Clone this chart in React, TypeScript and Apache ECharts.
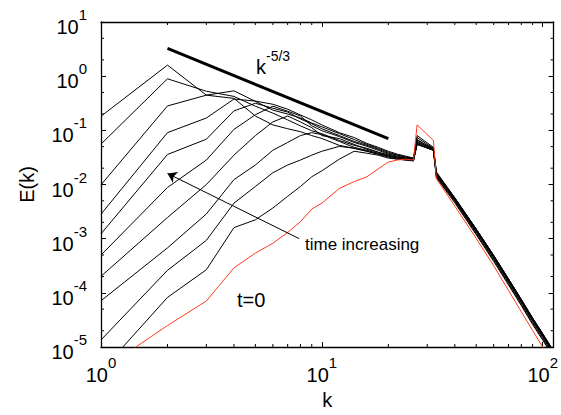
import React, { useEffect, useRef } from "react";
import * as echarts from "echarts";

// wavenumbers at which the spectra are sampled
const kValues = [1, 2, 3, 4, 5, 6, 7, 8, 9, 10, 12, 14, 16, 18, 20, 22, 24, 26, 27, 32, 33, 40, 50, 60, 70, 80, 90, 100, 110];

// t = 0 spectrum (red)
const energyT0 = [3.67e-6, 2.49e-5, 7.06e-5, 2.9e-4, 5.42e-4, 8.22e-4, 1.3e-3, 2.05e-3, 3.52e-3, 4.53e-3, 8.45e-3, 0.0113, 0.0139, 0.0194, 0.026, 0.0283, 0.0294, 0.0283, 0.126, 0.065, 0.0128, 4.0e-3, 1.01e-3, 3.16e-4, 1.11e-4, 4.47e-5, 2.02e-5, 1.0e-5, 5.1e-6];

// later spectra, earliest first (black)
const energyStage1 = [3.56e-6, 8.23e-5, 2.67e-4, 1.6e-3, 2.23e-3, 3.68e-3, 6.06e-3, 9.19e-3, 0.0139, 0.0179, 0.0294, 0.0411, 0.0378, 0.0348, 0.0307, 0.0294, 0.0283, 0.0271, 0.055, 0.0428, 0.0134, 4.6e-3, 1.18e-3, 3.8e-4, 1.4e-4, 5.8e-5, 2.6e-5, 1.34e-5, 7.2e-6];
const energyStage2 = [1.35e-5, 2.6e-4, 9.31e-4, 4.53e-3, 9.19e-3, 0.0165, 0.0229, 0.0283, 0.0348, 0.0411, 0.0506, 0.0466, 0.0411, 0.0363, 0.032, 0.0294, 0.0283, 0.0283, 0.055, 0.0428, 0.0139, 4.8e-3, 1.24e-3, 4.0e-4, 1.47e-4, 6.1e-5, 2.75e-5, 1.42e-5, 7.6e-6];
const energyStage3 = [7.14e-5, 6.76e-4, 2.86e-3, 0.0123, 0.0229, 0.0428, 0.0598, 0.08, 0.0906, 0.0834, 0.0623, 0.0485, 0.0428, 0.0378, 0.0334, 0.0307, 0.0294, 0.0283, 0.0573, 0.0428, 0.0145, 5.0e-3, 1.31e-3, 4.25e-4, 1.56e-4, 6.5e-5, 2.95e-5, 1.51e-5, 8.1e-6];
const energyStage4 = [2.02e-4, 2.46e-3, 9.98e-3, 0.0348, 0.08, 0.143, 0.184, 0.143, 0.112, 0.08, 0.0706, 0.055, 0.0447, 0.0394, 0.0348, 0.032, 0.0294, 0.0283, 0.0573, 0.0428, 0.0151, 5.2e-3, 1.37e-3, 4.45e-4, 1.64e-4, 6.85e-5, 3.1e-5, 1.59e-5, 8.5e-6];
const energyStage5 = [4.99e-4, 8.81e-3, 0.0283, 0.104, 0.194, 0.279, 0.226, 0.184, 0.121, 0.0985, 0.0767, 0.0598, 0.0506, 0.0428, 0.0363, 0.0334, 0.0307, 0.0294, 0.0598, 0.0447, 0.0151, 5.3e-3, 1.4e-3, 4.55e-4, 1.67e-4, 7.0e-5, 3.15e-5, 1.62e-5, 8.7e-6];
const energyStage6 = [1.23e-3, 0.0358, 0.0686, 0.229, 0.316, 0.256, 0.217, 0.162, 0.132, 0.107, 0.08, 0.0623, 0.0528, 0.0447, 0.0378, 0.0348, 0.032, 0.0294, 0.0623, 0.0447, 0.0158, 5.4e-3, 1.43e-3, 4.65e-4, 1.71e-4, 7.1e-5, 3.22e-5, 1.65e-5, 8.9e-6];
const energyStage7 = [2.83e-3, 0.0906, 0.169, 0.378, 0.347, 0.303, 0.246, 0.192, 0.156, 0.126, 0.0906, 0.0736, 0.0573, 0.0485, 0.0411, 0.0363, 0.0334, 0.0307, 0.08, 0.0485, 0.0171, 5.7e-3, 1.51e-3, 4.9e-4, 1.81e-4, 7.6e-5, 3.45e-5, 1.77e-5, 9.5e-6];
const energyStage8 = [9.86e-3, 0.282, 0.446, 0.536, 0.343, 0.236, 0.2, 0.169, 0.137, 0.116, 0.0869, 0.0677, 0.055, 0.0466, 0.0394, 0.0348, 0.032, 0.0307, 0.065, 0.0466, 0.0165, 5.6e-3, 1.49e-3, 4.85e-4, 1.79e-4, 7.45e-5, 3.38e-5, 1.74e-5, 9.3e-6];
const energyStage9 = [0.0557, 0.894, 0.527, 0.423, 0.279, 0.208, 0.156, 0.121, 0.0985, 0.0869, 0.065, 0.0528, 0.0466, 0.0394, 0.0348, 0.032, 0.0307, 0.0294, 0.0677, 0.0447, 0.0158, 5.5e-3, 1.48e-3, 4.8e-4, 1.78e-4, 7.4e-5, 3.35e-5, 1.72e-5, 9.2e-6];
const energyStage10 = [0.182, 1.6, 0.446, 0.389, 0.184, 0.126, 0.107, 0.0945, 0.08, 0.0706, 0.0528, 0.0466, 0.0411, 0.0363, 0.0334, 0.0307, 0.0294, 0.0283, 0.0736, 0.0466, 0.0165, 5.6e-3, 1.5e-3, 4.9e-4, 1.8e-4, 7.5e-5, 3.4e-5, 1.75e-5, 9.4e-6];

const blackStages = [energyStage1, energyStage2, energyStage3, energyStage4, energyStage5, energyStage6, energyStage7, energyStage8, energyStage9, energyStage10];

// k^-5/3 reference line endpoints
const slopeK = [2, 20];
const slopeE = [3.25, 0.07];

// "time increasing" arrow: [k, E] from tail to tip
const arrowFrom = [7.9, 1.0e-3];
const arrowTo = [2.0, 0.016];

// axis ranges and minor tick values
const kRange = [1, 112];
const eRange = [1e-5, 10];
const kMinorTicks = [2, 3, 4, 5, 6, 7, 8, 9, 20, 30, 40, 50, 60, 70, 80, 90];
const eMinorTicks = [2e-5, 5e-5, 2e-4, 5e-4, 2e-3, 5e-3, 0.02, 0.05, 0.2, 0.5, 2, 5];

const FONT = "'Liberation Sans', Arial, Helvetica, sans-serif";

export default function App() {
  const ref = useRef<HTMLDivElement>(null);

  useEffect(() => {
    if (!ref.current) return;
    const chart = echarts.init(ref.current, null, { renderer: "svg" });

    const labelRich = {
      b: { fontSize: 20, lineHeight: 30, verticalAlign: "bottom", fontFamily: FONT, color: "#000" },
      e: { fontSize: 15, lineHeight: 14, verticalAlign: "top", fontFamily: FONT, color: "#000" },
    };
    const fmt = (v: number) => `{b|10}{e|${Math.round(Math.log10(v))}}`;
    const axisLine = { show: true, onZero: false, lineStyle: { color: "#000", width: 1.3 } };
    const axisTick = { show: true, inside: true, length: 5, lineStyle: { color: "#000", width: 1 } };

    const lineSeries: any[] = blackStages.map((arr, i) => ({
      type: "line",
      name: `stage${i + 1}`,
      data: kValues.map((k, j) => [k, arr[j]]),
      showSymbol: false,
      symbol: "none",
      silent: true,
      clip: true,
      lineStyle: { color: "#000", width: 1 },
      z: 2,
    }));
    lineSeries.push({
      type: "line",
      name: "t=0",
      data: kValues.map((k, j) => [k, energyT0[j]]),
      showSymbol: false,
      symbol: "none",
      silent: true,
      clip: true,
      lineStyle: { color: "#ff3a1c", width: 1 },
      z: 3,
    });
    lineSeries.push({
      type: "line",
      name: "slope",
      data: slopeK.map((k, j) => [k, slopeE[j]]),
      showSymbol: false,
      symbol: "none",
      silent: true,
      lineStyle: { color: "#000", width: 3 },
      z: 4,
      markLine: {
        silent: true,
        symbol: ["none", "arrow"],
        symbolSize: 9,
        label: { show: false },
        lineStyle: { color: "#000", width: 1, type: "solid" },
        data: [[{ coord: arrowFrom }, { coord: arrowTo }]],
      },
    });

    const tickStyle = { stroke: "#000", lineWidth: 1 };
    lineSeries.push({
      type: "custom",
      coordinateSystem: "cartesian2d",
      silent: true,
      clip: false,
      data: kMinorTicks.map((k) => [k, 1]),
      renderItem: (params: any, api: any) => {
        const cs = params.coordSys;
        const px = api.coord([api.value(0), api.value(1)])[0];
        const bottom = cs.y + cs.height;
        const top = cs.y;
        return {
          type: "group",
          children: [
            { type: "line", shape: { x1: px, y1: bottom, x2: px, y2: bottom - 3 }, style: tickStyle },
            { type: "line", shape: { x1: px, y1: top, x2: px, y2: top + 3 }, style: tickStyle },
          ],
        };
      },
      z: 5,
    });
    lineSeries.push({
      type: "custom",
      coordinateSystem: "cartesian2d",
      silent: true,
      clip: false,
      data: eMinorTicks.map((e) => [2, e]),
      renderItem: (params: any, api: any) => {
        const cs = params.coordSys;
        const py = api.coord([api.value(0), api.value(1)])[1];
        const left = cs.x;
        const right = cs.x + cs.width;
        return {
          type: "group",
          children: [
            { type: "line", shape: { x1: left, y1: py, x2: left + 3, y2: py }, style: tickStyle },
            { type: "line", shape: { x1: right, y1: py, x2: right - 3, y2: py }, style: tickStyle },
          ],
        };
      },
      z: 5,
    });

    chart.setOption({
      animation: false,
      backgroundColor: "#fff",
      textStyle: { fontFamily: FONT, color: "#000" },
      grid: { left: 101, top: 22, width: 459, height: 332, containLabel: false },
      xAxis: [
        {
          type: "log",
          logBase: 10,
          min: kRange[0],
          max: kRange[1],
          position: "bottom",
          axisLine,
          axisTick,
          splitLine: { show: false },
          axisLabel: { formatter: fmt, margin: 8, rich: labelRich },
          name: "k",
          nameLocation: "middle",
          nameGap: 43,
          nameTextStyle: { fontSize: 20, fontFamily: FONT, color: "#000" },
        },
        {
          type: "log",
          logBase: 10,
          min: kRange[0],
          max: kRange[1],
          position: "top",
          axisLine,
          axisTick,
          splitLine: { show: false },
          axisLabel: { show: false },
        },
      ],
      yAxis: [
        {
          type: "log",
          logBase: 10,
          min: eRange[0],
          max: eRange[1],
          position: "left",
          axisLine,
          axisTick,
          splitLine: { show: false },
          axisLabel: { formatter: fmt, margin: 14, rich: labelRich },
          name: "E(k)",
          nameLocation: "middle",
          nameGap: 64,
          nameTextStyle: { fontSize: 20, fontFamily: FONT, color: "#000" },
        },
        {
          type: "log",
          logBase: 10,
          min: eRange[0],
          max: eRange[1],
          position: "right",
          axisLine,
          axisTick,
          splitLine: { show: false },
          axisLabel: { show: false },
        },
      ],
      graphic: [
        {
          type: "text",
          x: 256,
          y: 49,
          silent: true,
          style: {
            text: "{b|k}{s|-5/3}",
            fill: "#000",
            verticalAlign: "top",
            rich: {
              b: { fontSize: 20, lineHeight: 28, verticalAlign: "bottom", fontFamily: FONT, fill: "#000" },
              s: { fontSize: 14, lineHeight: 12, verticalAlign: "top", fontFamily: FONT, fill: "#000" },
            },
          },
        },
        {
          type: "text",
          x: 305,
          y: 244,
          silent: true,
          style: { text: "time increasing", fontSize: 17, fontFamily: FONT, fill: "#000", verticalAlign: "middle" },
        },
        {
          type: "text",
          x: 237,
          y: 300,
          silent: true,
          style: { text: "t=0", fontSize: 20, fontFamily: FONT, fill: "#000", verticalAlign: "middle" },
        },
      ],
      series: lineSeries,
    });

    return () => chart.dispose();
  }, []);

  return <div ref={ref} style={{ position: "absolute", left: 0, top: 0, width: 561, height: 415 }} />;
}
